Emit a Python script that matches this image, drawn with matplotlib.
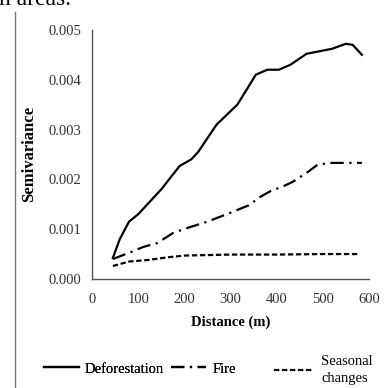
import matplotlib.pyplot as plt
from matplotlib.lines import Line2D

plt.rcParams['font.family'] = ['Liberation Serif', 'DejaVu Serif']

# values (distance in m, semivariance)
deforestation_x = [45, 60, 80, 100, 150, 190, 215, 230, 270, 315, 355, 380, 405, 430, 465, 520, 550, 565, 585]
deforestation_y = [0.00042, 0.0008, 0.00115, 0.0013, 0.0018, 0.00227, 0.0024, 0.00255, 0.0031, 0.0035,
                   0.0041, 0.0042, 0.0042, 0.0043, 0.00452, 0.00462, 0.00472, 0.0047, 0.0045]
fire_x = [45, 87, 110, 141, 175, 205, 250, 300, 340, 365, 390, 410, 435, 465, 490, 520, 585]
fire_y = [0.0004, 0.00055, 0.00064, 0.00072, 0.00092, 0.00102, 0.00115, 0.00133, 0.00148, 0.00165,
          0.00178, 0.00184, 0.00195, 0.00213, 0.0023, 0.00233, 0.00233]
seasonal_x = [45, 80, 120, 160, 200, 250, 300, 400, 500, 580]
seasonal_y = [0.00026, 0.00035, 0.00038, 0.00043, 0.00047, 0.00048, 0.00049, 0.00049, 0.0005, 0.0005]

x_ticks = [0, 100, 200, 300, 400, 500, 600]
y_ticks = [0.000, 0.001, 0.002, 0.003, 0.004, 0.005]

fig = plt.figure(figsize=(3.87, 3.88), dpi=100)
ax = fig.add_axes([0.238, 0.281, 0.715, 0.642])

fire_style = (0, (6, 2.5, 1, 2.5))
seasonal_style = (0, (2.4, 1.2))
ax.plot(deforestation_x, deforestation_y, color='black', lw=1.6, label='Deforestation')
ax.plot(fire_x, fire_y, color='black', lw=1.6, linestyle=fire_style, label='Fire')
ax.plot(seasonal_x, seasonal_y, color='black', lw=1.6, linestyle=seasonal_style, label='Seasonal\nchanges')

ax.set_xlim(0, 600)
ax.set_ylim(0, 0.005)
ax.set_xticks(x_ticks)
ax.set_yticks(y_ticks)
ax.set_yticklabels([f'{v:.3f}' for v in y_ticks])
ax.tick_params(length=0, labelsize=10.5, colors='#333333')
ax.tick_params(axis='x', pad=10)
ax.tick_params(axis='y', pad=8)
for s in ['top', 'right']:
    ax.spines[s].set_visible(False)
for s in ['left', 'bottom']:
    ax.spines[s].set_color('#555555')
    ax.spines[s].set_linewidth(1.0)

ax.set_xlabel('Distance (m)', fontsize=10.5, fontweight='bold', labelpad=7)
ax.set_ylabel('Semivariance', fontsize=12, fontweight='bold', labelpad=8)

# legend split in two so the gap before the last entry matches
h, l = ax.get_legend_handles_labels()
leg1 = fig.legend(h[:2], l[:2], ncol=2, frameon=False, fontsize=10.5,
                  loc='center left', bbox_to_anchor=(0.08, 0.049),
                  handlelength=2.4, handletextpad=0.4, columnspacing=0.5)
leg2 = fig.legend(h[2:], l[2:], frameon=False, fontsize=10.5,
                  loc='center left', bbox_to_anchor=(0.675, 0.047),
                  handlelength=2.6, handletextpad=0.6)
for t in leg2.get_texts():
    t.set_linespacing(1.45)
fig.add_artist(leg1)

# page context around the chart
fig.add_artist(Line2D([15.5 / 387, 15.5 / 387], [0, 1 - 12 / 388], transform=fig.transFigure,
                      color='#777777', lw=1.0))
fig.text(-1 / 387, 1 - 5 / 388, 'n areas.', fontsize=17, ha='left', va='baseline')

fig.savefig('out.png', dpi=100)
